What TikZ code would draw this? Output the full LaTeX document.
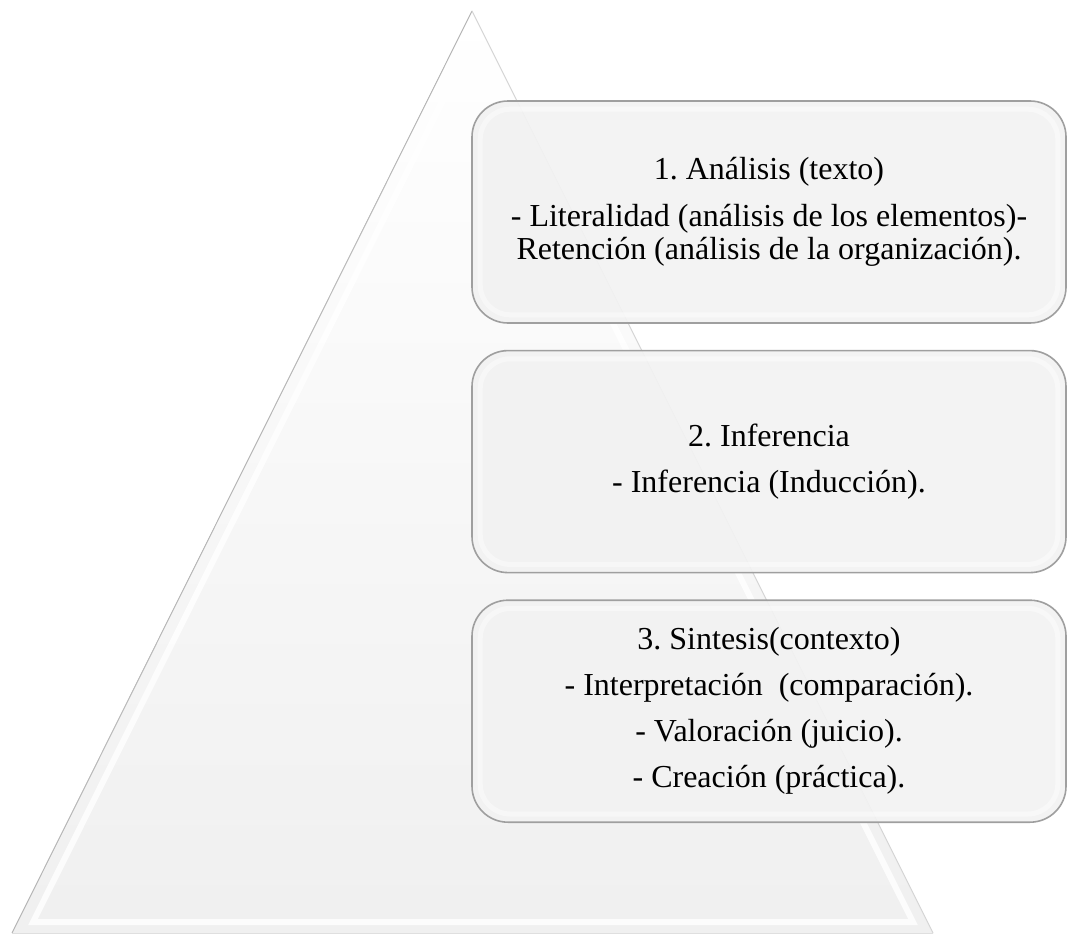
\documentclass[tikz,border=0pt]{standalone}
\usepackage{fontspec}
\setmainfont{Liberation Serif}
\usetikzlibrary{positioning}
\tikzset{
	tri/.style={top color=white,bottom color=gray!12},
	rim/.style={gray!55,line width=1pt},
	bevel/.style={white,line width=6pt,opacity=0.8},
	box/.style={rounded corners=36pt,fill=gray!10,fill opacity=0.92,text opacity=1,draw=gray!75,line width=1.6pt,
		minimum width=594pt,minimum height=222pt,inner sep=0pt,align=center,
		font=\fontsize{32}{33}\selectfont},
	glow/.style={rounded corners=30pt,draw=white,line width=5pt,opacity=0.45},
}

\begin{document}
\frenchspacing
\begin{tikzpicture}[x=1pt,y=-1pt]
	\useasboundingbox (0,0) rectangle (1068,934);

	\coordinate (apex) at (472,11);
	\coordinate (bl) at (12,933);
	\coordinate (br) at (933,933);

	\fill [tri] (apex) -- (bl) -- (br) -- cycle;
	\draw [bevel] (472,42) -- (33,922) -- (913,922) -- cycle;
	\draw [rim] (bl) -- (apex);
	\draw [gray!30,line width=1pt] (apex) -- (br);
	\draw [gray!25,line width=0.8pt] (bl) -- (br);

	\node [box] (analisis) at (769,212) {1. Análisis (texto)\\[14pt]- Literalidad (análisis de los elementos)-\\Retención (análisis de la organización).};
	\node [box,below=26pt of analisis] (inferencia) {2. Inferencia\\[13pt]- Inferencia (Inducción).};
	\node [box,below=26pt of inferencia] (sintesis) {3. Sintesis(contexto)\\[13pt]- Interpretación~ (comparación).\\[13pt]- Valoración (juicio).\\[13pt]- Creación (práctica).};

	\foreach \b in {analisis,inferencia,sintesis}
		\draw [glow] ([xshift=9pt,yshift=-9pt]\b.north west) rectangle ([xshift=-9pt,yshift=9pt]\b.south east);
\end{tikzpicture}
\end{document}
